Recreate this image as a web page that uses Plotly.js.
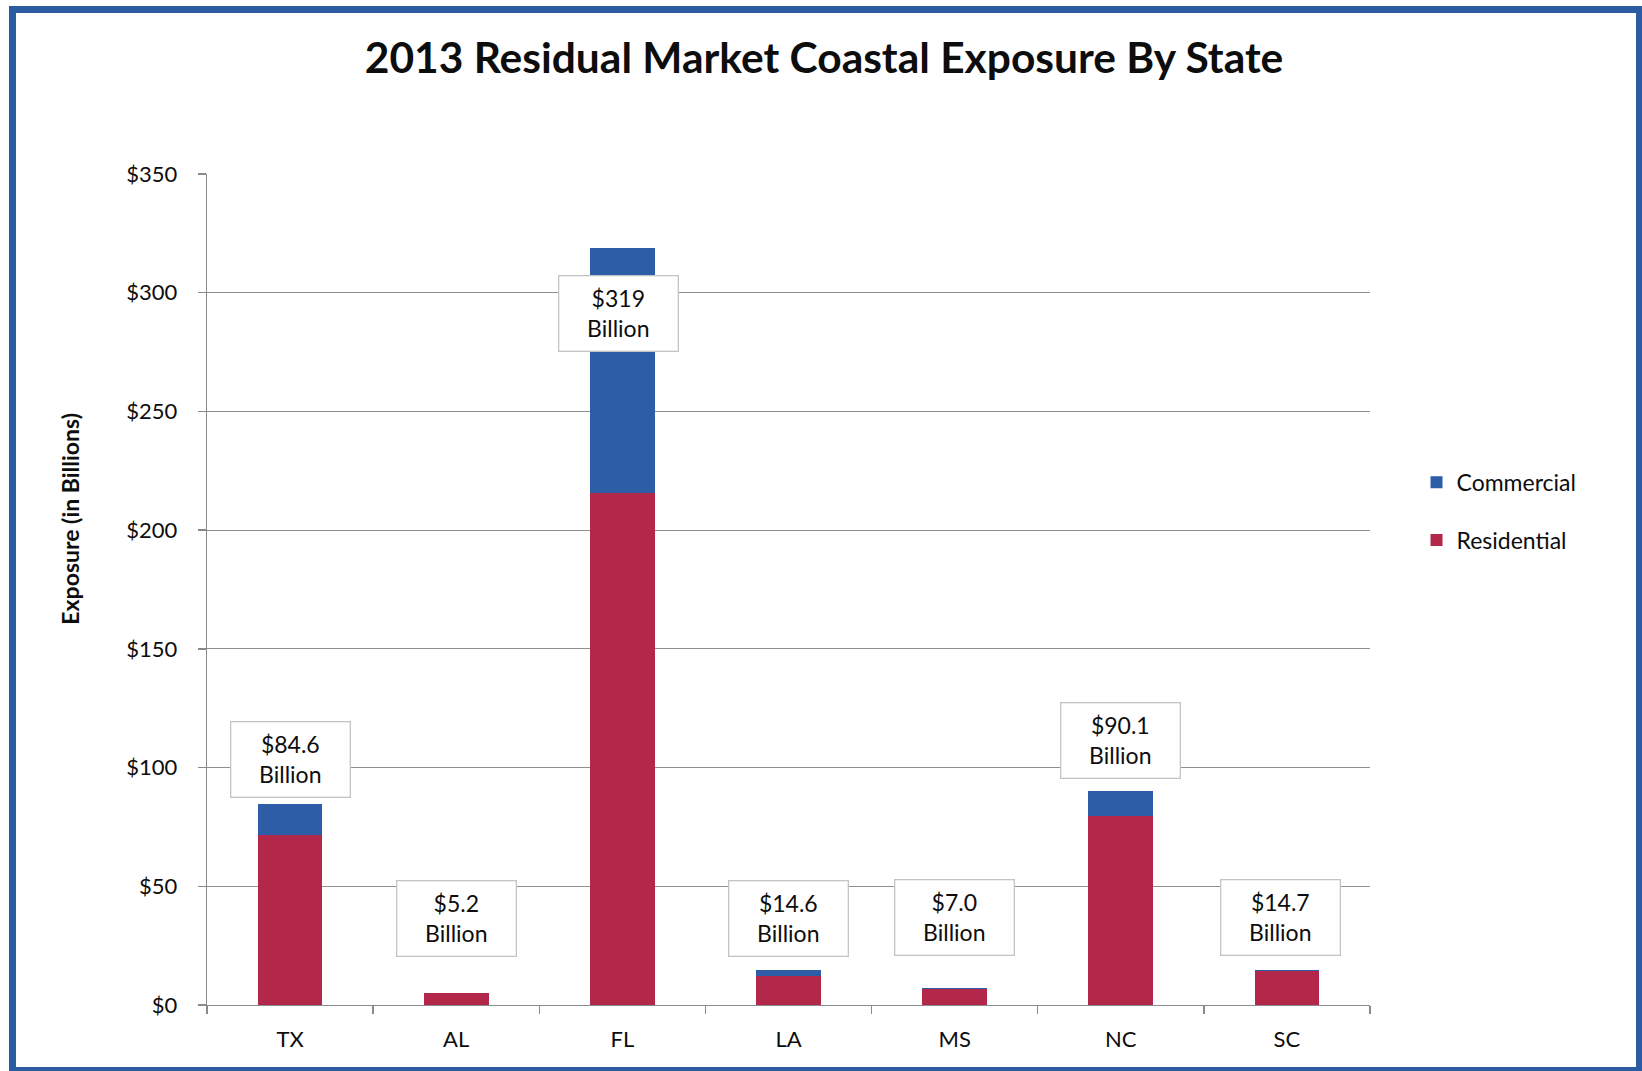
<!DOCTYPE html>
<html>
<head>
<meta charset="utf-8">
<script src="https://cdn.plot.ly/plotly-3.0.1.min.js"></script>
<style>
  html, body { margin: 0; padding: 0; background: #ffffff; }
  #wrap { position: relative; width: 1642px; height: 1071px; overflow: hidden; background: #fff; }
  #frame { position: absolute; left: 9px; top: 6px; width: 1633px; height: 1065px;
           border-style: solid; border-color: #2B5BA0; border-width: 7px 6px 4px 7px;
           box-sizing: border-box; pointer-events: none; z-index: 5; }
  #chart { position: absolute; left: 0; top: 0; width: 1642px; height: 1071px; }
</style>
</head>
<body>
<div id="wrap">
  <div id="chart"></div>
  <div id="frame"></div>
</div>
<script>
// ---- data ----
const states = ["TX", "AL", "FL", "LA", "MS", "NC", "SC"];
const residential = [71.8, 5.1, 215.6, 12.3, 6.8, 79.6, 14.5];
const commercial = [12.8, 0.1, 103.4, 2.3, 0.2, 10.5, 0.2];
const totalLabels = ["$84.6", "$5.2", "$319", "$14.6", "$7.0", "$90.1", "$14.7"];
const yTickValues = [0, 50, 100, 150, 200, 250, 300, 350];
const yTickLabels = ["$0", "$50", "$100", "$150", "$200", "$250", "$300", "$350"];

// ---- layout constants (label box placement, not data) ----
const boxCenterY = [103.2, 36.6, 291.2, 36.6, 36.8, 111.2, 36.8];
const boxShiftX = [0, 0, -4, 0, 0, 0, -6];

const FONT = "Lato, 'Open Sans', sans-serif";
const RED = "#B3284A";
const BLUE = "#2C5DA6";
const TXT = "#0d0d0d";

const traces = [
  {
    type: "bar", name: "Residential", x: states, y: residential,
    marker: { color: RED, line: { width: 0 } }, legendgroup: "r", legendrank: 2
  },
  {
    type: "bar", name: "Commercial", x: states, y: commercial,
    marker: { color: BLUE, line: { width: 0 } }, legendgroup: "c", legendrank: 1
  }
];

const annotations = states.map((s, i) => ({
  x: s, y: boxCenterY[i], xref: "x", yref: "y",
  text: totalLabels[i] + "<br>Billion",
  showarrow: false, xshift: boxShiftX[i],
  xanchor: "center", yanchor: "middle",
  bgcolor: "#ffffff", bordercolor: "#c4c4c4", borderwidth: 1.3, borderpad: 2,
  width: 114, height: 70, align: "center",
  font: { family: FONT, size: 23, color: TXT }
}));

annotations.push({
  xref: "paper", yref: "paper", x: -0.118, y: 0.585,
  text: "<b>Exposure (in Billions)</b>", textangle: -90, showarrow: false,
  xanchor: "center", yanchor: "middle",
  font: { family: FONT, size: 23, color: TXT }
});

const layout = {
  width: 1642, height: 1071,
  paper_bgcolor: "#ffffff", plot_bgcolor: "#ffffff",
  margin: { l: 207, r: 272, t: 174, b: 66, pad: 0 },
  barmode: "stack",
  bargap: 0.61,
  title: {
    text: "<b>2013 Residual Market Coastal Exposure By State</b>",
    x: 824 / 1642, xref: "container", xanchor: "center",
    y: 1 - 58 / 1071, yref: "container", yanchor: "middle",
    font: { family: FONT, size: 42.5, color: TXT }
  },
  xaxis: {
    type: "category",
    showline: true, linecolor: "#8a8a8a", linewidth: 1.3,
    ticks: "outside", tickson: "boundaries", ticklen: 8, tickcolor: "#8a8a8a", tickwidth: 1.3,
    ticklabelstandoff: 14,
    showgrid: false, zeroline: false,
    tickfont: { family: FONT, size: 22, color: TXT },
    automargin: false
  },
  yaxis: {
    range: [0, 350], tickvals: yTickValues, ticktext: yTickLabels,
    showline: true, linecolor: "#8a8a8a", linewidth: 1.3,
    ticks: "outside", ticklen: 8, tickcolor: "#8a8a8a", tickwidth: 1.3,
    ticklabelstandoff: 16,
    showgrid: true, gridcolor: "#8f8f8f", gridwidth: 1.2,
    zeroline: false,
    tickfont: { family: FONT, size: 22, color: TXT },
    automargin: false
  },
  showlegend: true,
  legend: {
    x: 1.04, xanchor: "left", y: 0.655, yanchor: "top",
    traceorder: "grouped", tracegroupgap: 25,
    font: { family: FONT, size: 23, color: TXT },
    bgcolor: "rgba(0,0,0,0)", borderwidth: 0
  },
  annotations: annotations
};

Plotly.newPlot("chart", traces, layout, { displayModeBar: false, staticPlot: true });
</script>
</body>
</html>
